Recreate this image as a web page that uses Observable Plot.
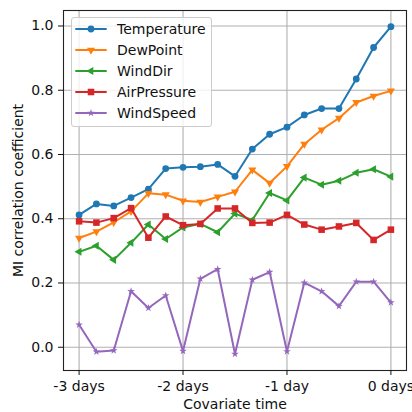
<!DOCTYPE html>
<html><head><meta charset="utf-8">
<script src="https://cdn.jsdelivr.net/npm/d3@7"></script>
<script src="https://cdn.jsdelivr.net/npm/@observablehq/plot@0.6"></script>
<style>
body{margin:0;background:#fff}
#wrap{position:relative;width:412px;height:412px;overflow:hidden;font-family:"DejaVu Sans",sans-serif}
#legend{position:absolute;left:71px;top:17px;width:139px;height:108px;border:1px solid #cccccc;border-radius:3px;background:rgba(255,255,255,0.8);box-sizing:content-box}
.row{position:absolute;left:0;height:20px;width:139px}
.row svg{position:absolute;left:0;top:0}
.row span{position:absolute;left:45px;top:0;line-height:20px;font-size:14px;color:#111;white-space:nowrap}
</style>
</head><body><div id="wrap"></div>
<script>
// Covariate time, hours before the forecast (4-hour steps)
const hours = [-72,-68,-64,-60,-56,-52,-48,-44,-40,-36,-32,-28,-24,-20,-16,-12,-8,-4,0];
const temperature = [0.412,0.446,0.440,0.466,0.492,0.556,0.560,0.562,0.569,0.532,0.617,0.663,0.685,0.723,0.743,0.743,0.835,0.933,0.998];
const dewPoint    = [0.340,0.360,0.389,0.423,0.479,0.475,0.456,0.452,0.468,0.484,0.552,0.511,0.563,0.632,0.677,0.713,0.762,0.782,0.798];
const windDir     = [0.297,0.316,0.272,0.325,0.382,0.337,0.373,0.384,0.358,0.416,0.396,0.480,0.457,0.528,0.506,0.518,0.543,0.554,0.531];
const airPressure = [0.392,0.388,0.402,0.433,0.341,0.407,0.380,0.384,0.432,0.432,0.387,0.388,0.412,0.382,0.366,0.376,0.387,0.334,0.366];
const windSpeed   = [0.070,-0.014,-0.010,0.174,0.122,0.161,-0.012,0.213,0.243,-0.021,0.210,0.234,-0.013,0.201,0.174,0.128,0.204,0.204,0.139];

const seriesNames = ["Temperature","DewPoint","WindDir","AirPressure","WindSpeed"];
const seriesValues = [temperature, dewPoint, windDir, airPressure, windSpeed];
const colors = ["#1f77b4","#ff7f0e","#2ca02c","#d62728","#9467bd"];
const symbols = ["circle","triangle","triangle","square","star"];
const rotations = [0,180,-90,0,0];
const radii = [3.4,3.0,3.0,3.7,2.4];

const tickHours = [-72,-48,-24,0];
const tickLabels = ["-3 days","-2 days","-1 day","0 days"];
const yTicks = [0,0.2,0.4,0.6,0.8,1.0];

const rows = seriesNames.map((name, i) => hours.map((h, j) => ({series: name, hour: h, value: seriesValues[i][j]})));

const seriesMarks = seriesNames.flatMap((name, i) => [
  Plot.line(rows[i], {x: "hour", y: "value", stroke: colors[i], strokeWidth: 2}),
  Plot.dot(rows[i], {x: "hour", y: "value", fill: colors[i], symbol: symbols[i], r: radii[i], rotate: rotations[i]})
]);

const chart = Plot.plot({
  width: 412, height: 412,
  marginLeft: 63, marginRight: 6, marginTop: 10, marginBottom: 42,
  style: {fontSize: "14px", fontFamily: "DejaVu Sans, sans-serif", color: "#111", background: "#fff"},
  x: {domain: [-75.6, 3.6]},
  y: {domain: [-0.0724, 1.0482]},
  marks: [
    Plot.gridX(tickHours, {stroke: "#b0b0b0", strokeOpacity: 1, strokeWidth: 1.1}),
    Plot.gridY(yTicks, {stroke: "#b0b0b0", strokeOpacity: 1, strokeWidth: 1.1}),
    ...seriesMarks,
    Plot.frame({stroke: "#222", strokeWidth: 1.1}),
    Plot.axisX(tickHours, {tickFormat: d => tickLabels[tickHours.indexOf(d)], tickSize: 5, tickPadding: 6,
      label: "Covariate time", labelAnchor: "center", labelArrow: "none", labelOffset: 38}),
    Plot.axisY(yTicks, {tickFormat: d3.format(".1f"), tickSize: 5, tickPadding: 5,
      label: "MI correlation coefficient", labelAnchor: "center", labelArrow: "none", labelOffset: 50})
  ]
});

const wrap = document.getElementById("wrap");
wrap.appendChild(chart);

// Legend (matplotlib style, upper left)
const legend = document.createElement("div");
legend.id = "legend";
seriesNames.forEach((name, i) => {
  const row = document.createElement("div");
  row.className = "row";
  row.style.top = (1.3 + i * 20.8) + "px";
  const svg = d3.create("svg").attr("width", 40).attr("height", 20);
  svg.append("line").attr("x1", 3.3).attr("x2", 34.7).attr("y1", 10).attr("y2", 10)
    .attr("stroke", colors[i]).attr("stroke-width", 2);
  const sym = {circle: d3.symbolCircle, triangle: d3.symbolTriangle, square: d3.symbolSquare, star: d3.symbolStar}[symbols[i]];
  svg.append("path").attr("d", d3.symbol(sym, radii[i] * radii[i] * Math.PI)())
    .attr("transform", `translate(19,10) rotate(${rotations[i]})`).attr("fill", colors[i]);
  row.appendChild(svg.node());
  const span = document.createElement("span");
  span.textContent = name;
  row.appendChild(span);
  legend.appendChild(row);
});
wrap.appendChild(legend);
</script>
</body></html>
